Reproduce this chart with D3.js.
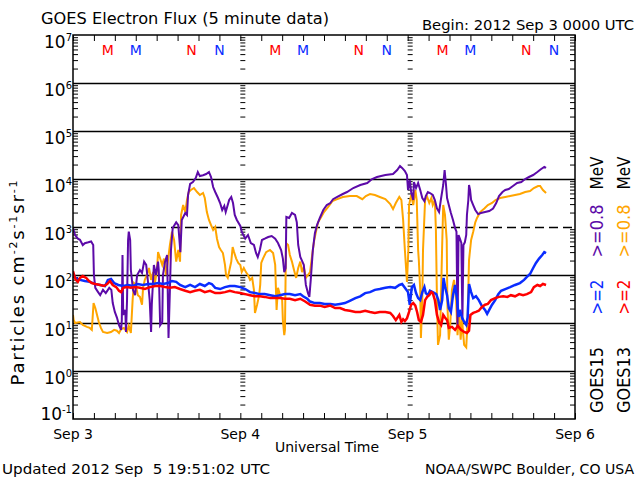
<!DOCTYPE html>
<html><head><meta charset="utf-8">
<script src="https://cdn.jsdelivr.net/npm/d3@7"></script>
<style>body{margin:0;background:#fff} svg{display:block} text{font-family:"DejaVu Sans",sans-serif;fill:#000}</style>
</head><body><svg id="c" width="640" height="480"></svg>
<script>
// hours since 2012 Sep 3 00:00 UTC, flux value
const g15e08 = [[0,950],[0.3,680],[0.7,570],[1.0,540],[1.4,420],[1.7,460],[2.2,480],[2.6,500],[2.9,420],[3.0,100],[3.2,54],[3.6,44],[3.9,38],[4.3,49],[4.7,42],[5.2,54],[5.5,49],[5.7,26],[6.0,17],[6.3,13],[6.6,9],[6.9,7.2],[7.0,11.5],[7.1,260],[7.2,14.7],[7.5,18.7],[7.6,6.5],[7.75,30],[7.9,536],[8.0,800],[8.2,536],[8.3,127],[8.6,49],[8.9,38],[9.2,100],[9.6,127],[9.9,110],[10.2,190],[10.5,162],[10.8,62],[11.0,30],[11.2,6.5],[11.3,24],[11.6,162],[11.9,100],[12.2,190],[12.3,127],[12.5,9],[12.8,10.5],[12.9,100],[13.2,190],[13.5,261],[13.7,4.9],[13.9,49],[14.05,332],[14.3,950],[14.8,1250],[15.1,1100],[15.4,300],[15.6,1400],[16.1,1960],[16.35,1780],[16.5,4640],[16.8,7900],[17.2,8660],[17.6,10500],[17.9,14000],[18.2,11500],[18.65,12000],[19.1,12700],[19.5,14000],[19.8,11000],[20.1,6800],[20.4,5360],[20.8,4020],[21.1,3160],[21.4,2260],[21.7,2740],[21.9,2050],[22.4,3650],[22.7,4220],[22.95,3160],[23.2,1780],[23.5,1400],[24.0,1050],[24.2,800],[24.7,570],[25.1,681],[25.5,464],[25.95,422],[26.25,287],[26.5,237],[26.8,332],[27.1,536],[27.5,570],[28.0,619],[28.5,650],[29.0,570],[29.4,464],[29.85,332],[30.1,220],[30.3,115],[30.5,140],[30.6,1620],[31.0,1540],[31.4,1960],[31.85,1780],[32.1,1250],[32.3,422],[32.6,237],[32.9,190],[33.1,162],[33.4,62],[33.7,42],[33.9,35],[34.1,79],[34.4,332],[34.7,750],[35.0,1100],[35.4,1540],[35.9,2260],[36.4,2870],[36.9,3160],[37.3,3800],[37.9,4220],[38.7,4870],[39.3,5360],[40.2,6490],[41.2,7500],[42.2,8250],[42.9,10000],[43.6,11000],[44.8,12100],[45.9,12700],[46.5,15400],[46.9,18700],[47.2,17000],[47.6,14700],[47.9,12100],[48.05,5900],[48.2,7500],[48.3,9530],[48.5,5360],[48.8,3650],[48.9,8660],[49.2,6490],[49.5,8250],[49.8,5900],[50.1,4020],[50.4,3450],[50.6,4420],[50.9,5360],[51.2,5110],[51.6,4640],[51.9,3650],[52.2,2430],[52.5,2050],[52.8,4020],[53.1,7500],[53.3,15400],[53.5,7500],[53.65,4020],[53.9,2870],[54.2,1960],[54.5,1400],[54.8,950],[55.0,800],[55.15,8.3],[55.3,681],[55.5,570],[55.7,464],[55.85,11.5],[56.0,422],[56.2,480],[56.4,681],[56.5,1780],[56.7,3650],[56.8,7500],[56.95,5900],[57.1,3650],[57.4,2870],[57.7,2260],[58.1,1860],[58.5,1960],[59.1,2050],[59.7,2150],[60.25,2430],[60.7,3160],[61.1,4420],[61.6,5360],[62.0,5900],[62.5,6200],[63.1,7150],[63.7,8250],[64.3,8660],[64.85,10000],[65.4,11000],[66.0,12100],[66.6,14000],[67.1,16000],[67.6,17800],[67.85,17000]];

const g13e08 = [[0,14.7],[0.1,11.5],[0.3,10],[1.0,10.5],[1.4,9.1],[2.0,8.3],[2.4,7.9],[2.7,7.2],[2.95,26],[3.2,20.5],[3.45,14.7],[3.7,10.5],[4.0,7.9],[4.3,6.5],[4.9,6.2],[5.45,6.5],[5.9,7.2],[6.3,6.9],[6.6,6.2],[6.9,7.5],[7.3,7.9],[7.75,6.5],[8.0,8.7],[8.3,6.2],[8.55,30],[8.75,68],[9.0,62],[9.3,38],[9.6,35],[9.9,24],[10.05,54],[10.3,79],[10.6,100],[10.9,140],[11.2,79],[11.5,115],[11.75,68],[12.05,127],[12.2,300],[12.5,220],[12.8,162],[13.05,220],[13.35,100],[13.6,190],[13.9,422],[14.2,800],[14.5,536],[14.8,190],[15.1,332],[15.35,190],[15.5,1780],[15.8,2870],[16.1,2050],[16.35,3650],[16.6,5360],[16.9,5900],[17.35,6490],[17.8,5360],[18.2,4640],[18.65,5110],[18.9,4020],[19.2,2050],[19.5,1400],[19.8,1100],[20.1,866],[20.4,1000],[20.65,570],[20.95,383],[21.2,332],[21.5,287],[21.8,162],[21.95,100],[22.2,87],[22.5,140],[22.7,190],[22.9,383],[23.1,300],[23.4,220],[23.7,178],[24.0,162],[24.2,115],[24.5,140],[24.8,115],[25.1,100],[25.4,79],[25.7,87],[25.95,49],[26.1,16.2],[26.4,24],[26.7,38],[26.85,62],[27.0,178],[27.25,220],[27.7,300],[28.25,332],[28.7,287],[29.0,162],[29.2,18.7],[29.4,54],[29.7,38],[30.0,30],[30.1,11.5],[30.3,5.6],[30.4,7.2],[30.55,464],[30.85,422],[31.1,261],[31.4,190],[31.7,127],[32.0,87],[32.3,140],[32.6,190],[32.85,115],[33.1,147],[33.4,87],[33.7,100],[34.0,115],[34.3,261],[34.6,536],[34.9,866],[35.15,1250],[35.6,1620],[36.0,2050],[36.6,2610],[37.2,3450],[37.9,3800],[38.7,4220],[39.7,4420],[40.7,4420],[41.5,3800],[42.0,4420],[42.6,4870],[43.3,4640],[44.0,4220],[44.8,3800],[45.5,3000],[45.9,2360],[46.3,3160],[46.8,4220],[47.1,3650],[47.35,1400],[47.6,332],[47.9,72],[48.1,332],[48.2,2870],[48.5,4640],[48.8,2870],[49.1,5900],[49.3,3650],[49.5,332],[49.6,205],[49.8,49],[49.9,4.9],[50.1,30],[50.2,332],[50.5,3650],[50.8,4220],[51.1,3160],[51.4,4020],[51.6,2870],[51.9,3650],[52.05,866],[52.2,30],[52.35,3.5],[52.65,5.6],[52.8,49],[52.95,422],[53.1,2870],[53.35,1780],[53.6,536],[53.7,24],[53.9,4.5],[54.1,9.1],[54.35,49],[54.65,79],[54.95,30],[55.15,5.6],[55.4,18.7],[55.6,4.5],[55.8,11.5],[56.1,3.5],[56.4,3.1],[56.6,11.5],[56.8,205],[57.1,536],[57.4,800],[57.7,1250],[57.95,1540],[58.4,2050],[59.0,2430],[59.5,2870],[60.1,3160],[60.6,3650],[61.25,4020],[62.0,4220],[62.7,4420],[63.4,4640],[64.1,4870],[64.85,5360],[65.55,5600],[66.1,6490],[66.7,7150],[67.0,7150],[67.4,5900],[67.85,5110]];

const g15e2 = [[0,110],[0.3,87],[1.0,79],[1.7,75],[2.4,72],[3.2,65],[3.9,62],[4.6,59],[5.0,79],[5.45,83],[5.9,68],[6.5,62],[7.2,59],[7.9,62],[8.6,59],[9.3,65],[10.0,62],[10.8,65],[11.5,65],[12.2,68],[12.9,65],[13.6,68],[14.2,75],[14.8,72],[15.35,62],[16.1,56],[16.8,62],[17.5,56],[18.2,65],[18.9,59],[19.5,68],[19.9,65],[20.4,54],[21.1,51],[21.8,56],[22.5,59],[23.2,59],[24.0,56],[24.7,51],[25.4,44],[26.1,42],[26.8,40],[27.5,40],[28.3,38],[29.0,36],[29.7,38],[30.4,40],[31.1,40],[31.85,38],[32.6,40],[33.0,36],[33.6,32],[34.0,28],[34.7,26],[35.4,26],[36.1,25],[36.9,25],[37.6,24],[38.3,25],[39.0,26],[39.7,29],[40.5,33],[41.2,36],[41.9,42],[42.6,44],[43.3,49],[44.0,51],[44.8,54],[45.5,56],[46.2,54],[46.8,62],[47.2,65],[47.6,54],[48.05,44],[48.3,24],[48.6,56],[48.9,62],[49.2,42],[49.5,33],[49.8,30],[50.1,44],[50.4,56],[50.6,42],[50.9,38],[51.2,47],[51.6,44],[52.1,40],[52.4,30],[52.65,18.7],[52.95,30],[53.15,87],[53.4,54],[53.65,38],[53.9,20.5],[54.2,17],[54.5,38],[54.8,62],[55.1,30],[55.3,13.4],[55.5,18.7],[55.8,13],[56.1,10.5],[56.4,9.1],[56.6,13],[56.8,65],[57.1,44],[57.4,33],[57.8,36],[58.2,30],[58.65,22.5],[59.1,18.7],[59.4,15.5],[59.7,18.7],[60.1,24],[60.55,30],[61.0,40],[61.4,47],[62.0,51],[62.7,56],[63.4,62],[64.1,68],[64.7,79],[65.1,91],[65.55,105],[66.0,140],[66.4,178],[66.85,220],[67.3,261],[67.6,300],[67.85,287]];

const g13e2 = [[0,120],[0.15,100],[0.4,79],[0.7,72],[1.0,87],[1.4,95],[1.9,87],[2.3,75],[2.7,68],[3.2,65],[3.9,62],[4.45,59],[4.9,65],[5.3,75],[5.7,62],[6.2,56],[6.6,47],[6.9,44],[7.2,54],[7.75,56],[8.3,54],[8.9,56],[9.6,54],[10.3,51],[11.05,56],[11.8,59],[12.5,59],[13.2,56],[13.9,54],[14.6,56],[15.35,51],[16.1,47],[16.8,44],[17.5,47],[18.2,49],[18.9,44],[19.65,47],[20.4,42],[21.1,42],[21.8,44],[22.5,47],[23.2,44],[24.0,42],[24.7,40],[25.4,38],[26.1,36],[26.8,36],[27.5,35],[28.3,33],[29.0,33],[29.7,33],[30.4,32],[31.1,32],[31.85,30],[32.6,32],[33.3,28],[34.0,24],[34.7,23],[35.4,23],[36.1,21.5],[36.9,23],[37.6,20.5],[38.3,20.5],[39.0,18.7],[39.7,18],[40.5,17],[41.2,17],[41.9,18],[42.6,17],[43.3,16.2],[44.0,17],[44.8,17],[45.5,16.2],[45.9,14],[46.3,11.5],[46.8,14.7],[47.1,10.5],[47.35,12],[47.6,11],[47.9,12.5],[48.2,17],[48.5,24],[48.8,26],[49.1,23],[49.35,17],[49.6,11.5],[49.9,10.5],[50.2,14.7],[50.5,30],[50.8,35],[51.1,38],[51.4,44],[51.6,42],[51.9,30],[52.2,14.7],[52.5,10.5],[52.8,9.1],[53.1,14.7],[53.35,13],[53.65,11.5],[53.9,7.9],[54.35,8.3],[54.8,7.2],[55.2,8.7],[55.65,7.2],[56.1,6.5],[56.5,6.2],[56.8,6.9],[57.0,14.7],[57.4,16.2],[57.8,17],[58.2,18],[58.65,21.5],[59.1,24],[59.5,25],[59.95,30],[60.55,33],[61.1,35],[61.7,36],[62.3,35],[62.8,38],[63.4,36],[64.0,40],[64.55,38],[65.1,40],[65.7,44],[66.1,56],[66.6,62],[67.0,59],[67.4,65],[67.85,62]];

const dayLabels = ["Sep 3","Sep 4","Sep 5","Sep 6"];
const dayHours = [0,24,48,72];
const decadeExps = [-1,0,1,2,3,4,5,6,7];
const mnLetters = ["M","M","N","N"];
const mnHours = [5,9,17,21];      // hour of day (UTC)
const mnSat = ["13","15","13","15"];
const legendCols = [
  {sat:"GOES15", lo:">=2", hi:">=0.8", loColor:"#0a2cff", hiColor:"#5c0aa8"},
  {sat:"GOES13", lo:">=2", hi:">=0.8", loColor:"#ff0000", hiColor:"#ffa500"}
];
const satColor = {"13":"#ff0000","15":"#0a2cff"};

const svg = d3.select("#c");
const L=73, R=575, T=35, B=419;
const x = d3.scaleLinear().domain([0,72]).range([L,R]);
const y = d3.scaleLog().domain([0.1,1e7]).range([B,T]);

const decades = decadeExps.map(e=>Math.pow(10,e));
const minor = [];
for (let e=-1;e<7;e++) for (let k=2;k<=9;k++) minor.push(k*Math.pow(10,e));

// gridlines
const gridVals = decades.filter(v=>v>0.5 && v<1e7*0.5);
const grid = svg.append("g").attr("transform",`translate(${L},0)`)
  .call(d3.axisRight(y).tickValues(gridVals).tickSize(R-L).tickFormat(""));
grid.select(".domain").remove();
grid.selectAll(".tick line").attr("stroke","#000").attr("stroke-width",1.5)
  .attr("stroke-dasharray",d=>Math.abs(Math.log10(d)-3)<0.01?"9,5":null);

// minor ticks on left/right axes and on day boundaries
function minorAxis(gen, xpos, size, vals){
  const g = svg.append("g").attr("transform",`translate(${xpos},0)`)
    .call(gen(y).tickValues(vals).tickSize(size).tickFormat(""));
  g.select(".domain").remove();
  g.selectAll(".tick line").attr("stroke","#000").attr("stroke-width",1);
}
minorAxis(d3.axisRight, L, 5, minor);
minorAxis(d3.axisLeft, R, 5, minor);
[24,48].forEach(h=>minorAxis(d3.axisRight, x(h), 5, minor));

// 3-hour ticks top and bottom
const hourTicks = d3.range(0,73,3);
const topAx = svg.append("g").attr("transform",`translate(0,${T})`)
  .call(d3.axisBottom(x).tickValues(hourTicks).tickSize(6).tickFormat(""));
topAx.select(".domain").remove();
topAx.selectAll(".tick line").attr("stroke","#000");
const botAx = svg.append("g").attr("transform",`translate(0,${B})`)
  .call(d3.axisTop(x).tickValues(hourTicks).tickSize(6).tickFormat(""));
botAx.select(".domain").remove();
botAx.selectAll(".tick line").attr("stroke","#000");

// data lines
svg.append("clipPath").attr("id","clip").append("rect")
  .attr("x",L).attr("y",T).attr("width",R-L).attr("height",B-T);
const line = d3.line().x(d=>x(d[0])).y(d=>y(d[1]));
const series = [
  {data:g13e08, color:"#ffa500", w:2},
  {data:g15e08, color:"#5c0aa8", w:2},
  {data:g15e2, color:"#0a2cff", w:2.5},
  {data:g13e2, color:"#ff0000", w:2.5}
];
svg.append("g").attr("clip-path","url(#clip)").selectAll("path").data(series).join("path")
  .attr("d",d=>line(d.data)).attr("fill","none").attr("stroke",d=>d.color)
  .attr("stroke-width",d=>d.w).attr("stroke-linejoin","miter");

// frame
svg.append("rect").attr("x",L).attr("y",T).attr("width",R-L).attr("height",B-T)
  .attr("fill","none").attr("stroke","#000").attr("stroke-width",1.5);

// M / N markers
const mn = [];
[0,1,2].forEach(day=>mnHours.forEach((h,i)=>mn.push({h:day*24+h, t:mnLetters[i], s:mnSat[i]})));
svg.append("g").selectAll("text").data(mn).join("text")
  .attr("x",d=>x(d.h)).attr("y",55).attr("text-anchor","middle")
  .attr("font-size",14).style("fill",d=>satColor[d.s]).text(d=>d.t);

// y labels with superscripts
const yl = svg.append("g").selectAll("text").data(decadeExps).join("text")
  .attr("x",72).attr("y",e=>y(Math.pow(10,e)) + (e===-1?1:13))
  .attr("text-anchor","end").attr("font-size",17);
yl.append("tspan").text("10");
yl.append("tspan").attr("dy",-7).attr("font-size",10).text(e=>e===-1?"-1":String(e));

// x day labels
svg.append("g").selectAll("text").data(dayHours).join("text")
  .attr("x",h=>x(h)).attr("y",439).attr("text-anchor","middle").attr("font-size",14)
  .text((h,i)=>dayLabels[i]);

svg.append("text").attr("x",(L+R)/2+3).attr("y",452).attr("text-anchor","middle")
  .attr("font-size",14).text("Universal Time");

svg.append("text").attr("x",41).attr("y",24).attr("font-size",16.5)
  .attr("textLength",288).attr("lengthAdjust","spacingAndGlyphs")
  .text("GOES Electron Flux (5 minute data)");
svg.append("text").attr("x",422).attr("y",30).attr("font-size",14.5)
  .attr("textLength",212).attr("lengthAdjust","spacingAndGlyphs")
  .text("Begin: 2012 Sep 3 0000 UTC");
svg.append("text").attr("x",2).attr("y",474).attr("font-size",14)
  .attr("textLength",268).attr("lengthAdjust","spacingAndGlyphs")
  .style("white-space","pre").text("Updated 2012 Sep  5 19:51:02 UTC");
svg.append("text").attr("x",425).attr("y",474).attr("font-size",14)
  .attr("textLength",209).attr("lengthAdjust","spacingAndGlyphs")
  .text("NOAA/SWPC Boulder, CO USA");

// y-axis title
const yt = svg.append("text").attr("transform","translate(24,283) rotate(-90)")
  .attr("text-anchor","middle").attr("font-size",18)
  .attr("textLength",205).attr("lengthAdjust","spacing");
yt.append("tspan").text("Particles cm");
yt.append("tspan").attr("dy",-7).attr("font-size",11).text("-2");
yt.append("tspan").attr("dy",7).text("s");
yt.append("tspan").attr("dy",-7).attr("font-size",11).text("-1");
yt.append("tspan").attr("dy",7).text("sr");
yt.append("tspan").attr("dy",-7).attr("font-size",11).text("-1");

// right-side legend (rotated)
const legX = [603, 630];
const segs = [
  {key:"sat", c:380, len:66, color:()=>"#000"},
  {key:"lo", c:297, len:35, color:d=>d.loColor},
  {key:"hi", c:231, len:53, color:d=>d.hiColor},
  {key:"mev", c:173, len:33, color:()=>"#000"}
];
legendCols.forEach((col,i)=>{
  segs.forEach(s=>{
    svg.append("text").attr("transform",`translate(${legX[i]},${s.c}) rotate(-90)`)
      .attr("text-anchor","middle").attr("font-size",17)
      .attr("textLength",s.len).attr("lengthAdjust","spacingAndGlyphs")
      .style("fill",s.color(col)).text(s.key==="mev"?"MeV":col[s.key]);
  });
});
</script></body></html>
